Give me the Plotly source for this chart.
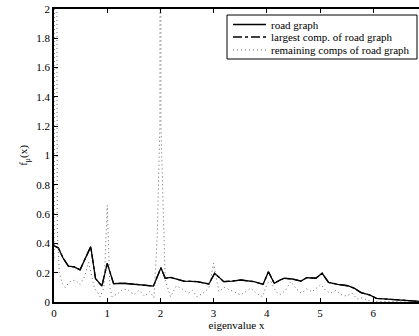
import plotly.graph_objects as go

# road graph spectral density (solid)
road_x = [0.0, 0.02, 0.08, 0.17, 0.27, 0.38, 0.49, 0.59, 0.69, 0.78, 0.9, 1.0, 1.12,
          1.31, 1.45, 1.62, 1.87, 2.01, 2.09, 2.19, 2.3, 2.44, 2.69, 2.91, 3.02, 3.19,
          3.35, 3.51, 3.76, 3.93, 4.03, 4.14, 4.25, 4.33, 4.48, 4.64, 4.75, 4.92, 5.04,
          5.16, 5.33, 5.52, 5.65, 5.77, 5.93, 6.06, 6.47, 6.72, 6.9]
road_y = [0.39, 0.38, 0.37, 0.3, 0.245, 0.24, 0.22, 0.3, 0.378, 0.16, 0.109, 0.264, 0.125,
          0.128, 0.122, 0.118, 0.109, 0.234, 0.162, 0.168, 0.155, 0.143, 0.139, 0.123, 0.196, 0.139,
          0.143, 0.15, 0.139, 0.121, 0.207, 0.128, 0.15, 0.162, 0.157, 0.143, 0.166, 0.162, 0.196,
          0.134, 0.121, 0.111, 0.093, 0.064, 0.048, 0.025, 0.014, 0.007, 0.003]

# largest component (dash-dot) -- nearly identical to the full road graph
largest_x = road_x
largest_y = road_y

# remaining components (dotted)
rest_x = [0.0, 0.03, 0.06, 0.1, 0.15, 0.21, 0.3, 0.4, 0.49, 0.57, 0.65, 0.76, 0.87, 0.94, 1.0,
          1.05, 1.09, 1.21, 1.3, 1.4, 1.5, 1.6, 1.7, 1.8, 1.88, 1.94, 1.99, 2.0, 2.01, 2.06,
          2.09, 2.19, 2.3, 2.38, 2.53, 2.6, 2.69, 2.8, 2.91, 3.0, 3.1, 3.2, 3.32, 3.42, 3.51,
          3.6, 3.7, 3.8, 3.92, 4.01, 4.08, 4.17, 4.25, 4.35, 4.45, 4.55, 4.65, 4.75, 4.85,
          4.95, 5.02, 5.1, 5.2, 5.3, 5.4, 5.5, 5.6, 5.7, 5.8, 5.9, 6.0, 6.2, 6.5, 6.9]
rest_y = [0.3, 10.0, 0.5, 0.2, 0.13, 0.10, 0.14, 0.15, 0.12, 0.17, 0.27, 0.095, 0.036, 0.1, 0.66,
          0.1, 0.036, 0.06, 0.09, 0.08, 0.05, 0.08, 0.04, 0.07, 0.03, 0.45, 1.2, 10.0, 1.2, 0.45,
          0.15, 0.036, 0.11, 0.095, 0.06, 0.08, 0.036, 0.06, 0.095, 0.264, 0.07, 0.1, 0.08, 0.06, 0.048,
          0.07, 0.095, 0.06, 0.036, 0.128, 0.14, 0.07, 0.05, 0.08, 0.14, 0.09, 0.06, 0.09, 0.07,
          0.1, 0.12, 0.08, 0.06, 0.08, 0.05, 0.04, 0.06, 0.02, 0.03, 0.01, 0.005, 0.003, 0.001, 0.0]

legend_names = ["road graph", "largest comp. of road graph", "remaining comps of road graph"]

x_ticks = [0, 1, 2, 3, 4, 5, 6]
y_ticks = [0, 0.2, 0.4, 0.6, 0.8, 1, 1.2, 1.4, 1.6, 1.8, 2]
y_tick_labels = ["0", "0.2", "0.4", "0.6", "0.8", "1", "1.2", "1.4", "1.6", "1.8", "2"]

FONT = "Liberation Serif, Times New Roman, serif"
W, H = 419, 336
ML, MR, MT, MB = 54, 0, 9, 34
PW, PH = W - ML - MR, H - MT - MB

SOLID = dict(color="black", width=1.3)
DASHDOT = dict(color="black", width=1.3, dash="dashdot")
DOTTED = dict(color="#666666", width=1, dash="1px,3px")
styles = [SOLID, DASHDOT, DOTTED]

fig = go.Figure()
fig.add_trace(go.Scatter(x=road_x, y=road_y, mode="lines", name=legend_names[0],
                         line=SOLID, showlegend=False))
fig.add_trace(go.Scatter(x=largest_x, y=largest_y, mode="lines", name=legend_names[1],
                         line=DASHDOT, showlegend=False))
fig.add_trace(go.Scatter(x=rest_x, y=rest_y, mode="lines", name=legend_names[2],
                         line=DOTTED, showlegend=False))


def px(xp):
    return (xp - ML) / PW


def py(yp):
    return (H - MB - yp) / PH


# legend drawn as a box with samples and labels (paper coordinates)
shapes = [dict(type="rect", xref="paper", yref="paper",
               x0=px(227), x1=px(417), y0=py(59), y1=py(15),
               line=dict(color="black", width=1), fillcolor="white", layer="above")]
annotations = []
row_y = [24.5, 37, 50]
for name, st, ry in zip(legend_names, styles, row_y):
    shapes.append(dict(type="line", xref="paper", yref="paper",
                       x0=px(233), x1=px(266), y0=py(ry), y1=py(ry),
                       line=st, layer="above"))
    annotations.append(dict(xref="paper", yref="paper", x=px(269), y=py(ry),
                            xanchor="left", yanchor="middle", text=name, showarrow=False,
                            font=dict(family=FONT, size=11, color="black")))

fig.update_layout(
    width=W, height=H,
    margin=dict(l=ML, r=MR, t=MT, b=MB),
    paper_bgcolor="white", plot_bgcolor="white",
    font=dict(family=FONT, size=11, color="black"),
    showlegend=False,
    shapes=shapes, annotations=annotations,
    xaxis=dict(range=[0, 6.86], tickvals=x_ticks, ticks="inside", ticklen=4,
               showline=True, linecolor="black", linewidth=1.5, mirror="ticks",
               showgrid=False, zeroline=False, tickcolor="black",
               title=dict(text="eigenvalue x", font=dict(family=FONT, size=11), standoff=2)),
    yaxis=dict(range=[0, 2], tickvals=y_ticks, ticktext=y_tick_labels, ticks="inside",
               ticklen=4, showline=True, linecolor="black", linewidth=1.5, mirror=False,
               showgrid=False, zeroline=False, tickcolor="black",
               title=dict(text="f<sub>μ</sub>(x)", font=dict(family=FONT, size=11), standoff=6)),
)

fig.write_html("out.html")
